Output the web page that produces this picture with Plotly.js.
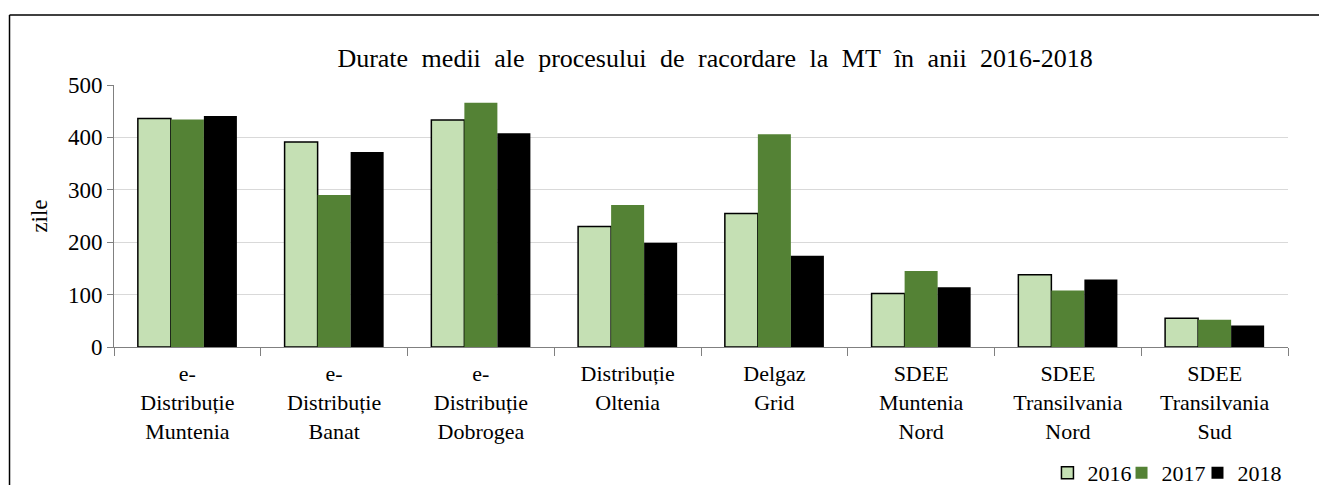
<!DOCTYPE html>
<html>
<head>
<meta charset="utf-8">
<script src="https://cdn.plot.ly/plotly-3.0.1.min.js"></script>
<style>
  html, body { margin: 0; padding: 0; background: #ffffff; }
  #chart { width: 1319px; height: 485px; }
  #chart .gtitle { word-spacing: 7px; }
</style>
</head>
<body>
<div id="chart"></div>
<script>
const categories = [
  "e-<br>Distribuție<br>Muntenia",
  "e-<br>Distribuție<br>Banat",
  "e-<br>Distribuție<br>Dobrogea",
  "Distribuție<br>Oltenia",
  "Delgaz<br>Grid",
  "SDEE<br>Muntenia<br>Nord",
  "SDEE<br>Transilvania<br>Nord",
  "SDEE<br>Transilvania<br>Sud"
];
const values2016 = [436, 391, 433, 230, 255, 102, 138, 55];
const values2017 = [434, 290, 466, 271, 406, 145, 108, 52];
const values2018 = [441, 372, 408, 199, 174, 114, 129, 41];
const seriesNames = ["2016", "2017", "2018"];
const yTicks = [0, 100, 200, 300, 400, 500];

const FONT = "Liberation Serif, Times New Roman, serif";

const traces = [
  {
    type: "bar", name: seriesNames[0], x: categories, y: values2016, legend: "legend",
    marker: { color: "#C5E0B4", line: { color: "#000000", width: 1.5 } }
  },
  {
    type: "bar", name: seriesNames[1], x: categories, y: values2017, legend: "legend2",
    marker: { color: "#548235", line: { color: "#548235", width: 0 } }
  },
  {
    type: "bar", name: seriesNames[2], x: categories, y: values2018, legend: "legend3",
    marker: { color: "#000000", line: { color: "#000000", width: 0 } }
  }
];

function legendAt(xPaper) {
  return {
    orientation: "h",
    xref: "paper", x: xPaper, xanchor: "left",
    yref: "container", y: 1 - 473 / 485, yanchor: "middle",
    font: { family: FONT, size: 22, color: "#000000" },
    itemwidth: 30,
    bgcolor: "rgba(0,0,0,0)"
  };
}

const layout = {
  width: 1319,
  height: 485,
  margin: { l: 114, r: 31, t: 84.5, b: 138.3, pad: 0 },
  paper_bgcolor: "#ffffff",
  plot_bgcolor: "#ffffff",
  font: { family: FONT, size: 22, color: "#000000" },
  barmode: "group",
  bargap: 0.325,
  bargroupgap: 0,
  showlegend: true,
  title: {
    text: "Durate medii ale procesului de racordare la MT în anii 2016-2018",
    font: { family: FONT, size: 26, color: "#000000" },
    xref: "paper", x: 0.512, xanchor: "center",
    yref: "container", y: 1 - 58 / 485, yanchor: "middle"
  },
  xaxis: {
    type: "category",
    automargin: false,
    showgrid: false,
    showline: true, linecolor: "#808080", linewidth: 1,
    ticks: "outside", tickson: "boundaries", ticklen: 8, tickcolor: "#808080", tickwidth: 1,
    ticklabelstandoff: 7,
    tickfont: { family: FONT, size: 22, color: "#000000" },
    tickangle: 0,
    fixedrange: true
  },
  yaxis: {
    automargin: false,
    range: [0, 500],
    tickvals: yTicks,
    ticktext: yTicks.map(String),
    showgrid: true, gridcolor: "#D9D9D9", gridwidth: 1,
    showline: true, linecolor: "#808080", linewidth: 1,
    ticks: "outside", ticklen: 6, tickcolor: "#808080",
    tickfont: { family: FONT, size: 23, color: "#000000" },
    zeroline: false,
    title: { text: "zile", font: { family: FONT, size: 23, color: "#000000" }, standoff: 13 },
    fixedrange: true
  },
  legend: legendAt(0.7951),
  legend2: legendAt(0.8582),
  legend3: legendAt(0.9229),
  shapes: [
    { type: "line", xref: "paper", yref: "paper",
      x0: -0.089, x1: 1.2, y0: 1.267, y1: 1.267,
      line: { color: "#000000", width: 1.5 } },
    { type: "line", xref: "paper", yref: "paper",
      x0: -0.089, x1: -0.089, y0: 1.267, y1: -0.7,
      line: { color: "#000000", width: 1.5 } }
  ]
};

Plotly.newPlot("chart", traces, layout, { displayModeBar: false, staticPlot: true });
</script>
</body>
</html>
